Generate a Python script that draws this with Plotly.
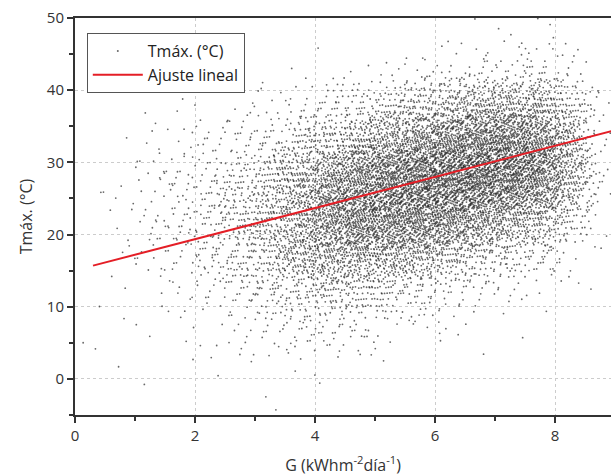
import plotly.graph_objects as go

# ---- data ----
# Cloud of daily points summarised as counts per cell:
# columns of G (kWh m-2 dia-1), 0.5 wide, rows of Tmax (°C), 5 wide.
g_bin_starts = [0.0, 0.5, 1.0, 1.5, 2.0, 2.5, 3.0, 3.5, 4.0,
                4.5, 5.0, 5.5, 6.0, 6.5, 7.0, 7.5, 8.0, 8.5]
g_bin_width = 0.5
t_bin_starts = [-5, 0, 5, 10, 15, 20, 25, 30, 35, 40, 45]
t_bin_width = 5
counts = [
    [1, 1, 1, 0, 0, 0, 1, 0, 0, 0, 0],
    [0, 1, 2, 2, 3, 3, 3, 1, 0, 0, 0],
    [0, 1, 2, 4, 8, 10, 8, 5, 2, 0, 0],
    [0, 1, 3, 8, 18, 22, 16, 9, 3, 0, 0],
    [0, 2, 5, 14, 30, 35, 26, 13, 4, 0, 0],
    [1, 3, 9, 25, 50, 60, 45, 20, 6, 0, 0],
    [1, 4, 14, 40, 85, 105, 80, 36, 10, 0, 0],
    [0, 5, 20, 60, 130, 170, 140, 65, 18, 1, 0],
    [0, 4, 22, 75, 175, 250, 220, 105, 30, 2, 0],
    [0, 2, 18, 70, 190, 300, 290, 155, 45, 3, 0],
    [0, 1, 10, 55, 170, 310, 340, 205, 70, 5, 0],
    [0, 0, 6, 40, 150, 310, 380, 255, 100, 8, 0],
    [0, 0, 3, 25, 110, 280, 390, 295, 130, 12, 1],
    [0, 0, 2, 15, 80, 240, 390, 335, 160, 18, 1],
    [0, 0, 1, 8, 55, 190, 360, 335, 170, 25, 2],
    [0, 0, 0, 4, 35, 140, 300, 295, 160, 28, 3],
    [0, 0, 0, 2, 15, 60, 150, 150, 80, 15, 2],
    [0, 0, 0, 0, 2, 6, 12, 12, 5, 1, 0],
]

# Linear fit
fit_intercept = 15.05
fit_slope = 2.155
fit_g = [0.3, 9.5]

x_ticks = [0, 2, 4, 6, 8]
y_ticks = [0, 10, 20, 30, 40, 50]

# ---- spread each cell's points around its cell centre (deterministic
#      low-discrepancy layout with a tent profile so cells blend smoothly) ----
gphi = 1.1673039782614187
alphas = [(1.0 / gphi) ** (d + 1) % 1.0 for d in range(4)]
px, py = [], []
k = 0
for i, g0 in enumerate(g_bin_starts):
    for j, t0 in enumerate(t_bin_starts):
        n = counts[i][j]
        gc = g0 + g_bin_width / 2
        tc = t0 + t_bin_width / 2
        for _ in range(n):
            k += 1
            u = [(0.5 + k * a) % 1.0 for a in alphas]
            px.append(gc + (u[0] + u[1] - 1.0) * g_bin_width)
            py.append(tc + (u[2] + u[3] - 1.0) * t_bin_width)

fit_t = [fit_intercept + fit_slope * g for g in fit_g]

fig = go.Figure()
fig.add_trace(go.Scatter(
    x=px, y=py, mode="markers", name="Tmáx. (°C)",
    marker=dict(size=1.8, color="rgba(40,40,40,0.7)", line=dict(width=0)),
))
fig.add_trace(go.Scatter(
    x=fit_g, y=fit_t, mode="lines", name="Ajuste lineal",
    line=dict(color="#e41e26", width=2),
))

font_family = "Open Sans, DejaVu Sans, sans-serif"
axis_font = dict(family=font_family, size=16, color="#333333")

fig.update_layout(
    width=611, height=476,
    margin=dict(l=75, r=0, t=18, b=61),
    paper_bgcolor="white", plot_bgcolor="white",
    font=axis_font,
    showlegend=True,
    legend=dict(
        x=0.022, y=0.962, xanchor="left", yanchor="top",
        bgcolor="white", bordercolor="#555555", borderwidth=1,
        font=dict(family=font_family, size=16, color="#222222"),
        itemsizing="trace", itemwidth=50, tracegroupgap=0,
    ),
    xaxis=dict(
        range=[0, 8.933], tickvals=x_ticks, ticks="outside", ticklen=6, tickwidth=1.5,
        tickcolor="#333333", showline=True, linewidth=2, linecolor="#333333",
        mirror=True, showgrid=True, gridcolor="#cccccc", griddash="dot", gridwidth=1,
        zeroline=False, tickfont=dict(size=15),
        minor=dict(dtick=1, ticks="outside", ticklen=4, tickcolor="#333333", showgrid=False),
        title=dict(text="G (kWhm<sup>-2</sup>día<sup>-1</sup>)", standoff=16,
                   font=dict(size=16, color="#333333")),
    ),
    yaxis=dict(
        range=[-5, 50], tickvals=y_ticks, ticks="outside", ticklen=6, tickwidth=1.5,
        tickcolor="#333333", showline=True, linewidth=2, linecolor="#333333",
        mirror=False, showgrid=True, gridcolor="#cccccc", griddash="dot", gridwidth=1,
        zeroline=False, tickfont=dict(size=15),
        minor=dict(dtick=5, tick0=-5, ticks="outside", ticklen=4, tickcolor="#333333", showgrid=False),
        title=dict(text="Tmáx. (°C)", standoff=10, font=dict(size=16, color="#333333")),
    ),
)

fig.write_html("out.html")
